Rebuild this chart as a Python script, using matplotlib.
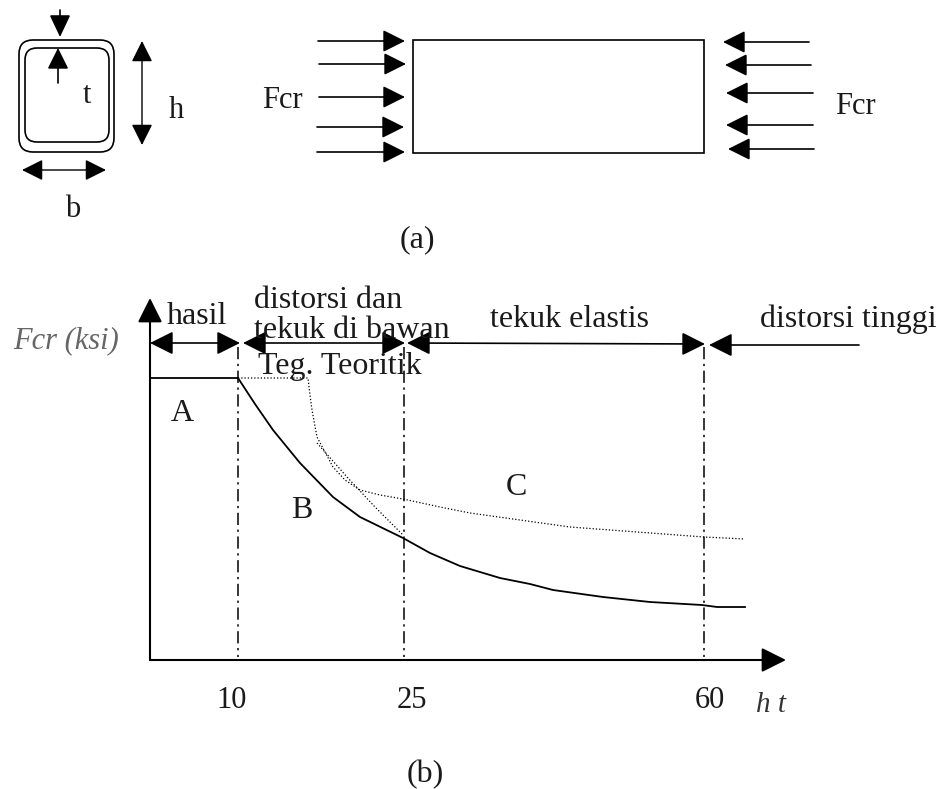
import matplotlib
matplotlib.use("Agg")
import matplotlib.pyplot as plt
from matplotlib.patches import FancyBboxPatch, Rectangle

# everything in pixels
curve_a_x = [150, 238]
curve_a_y = [378, 378]
curve_b_x = [238, 255, 273, 300, 333, 360, 403, 430, 460, 500, 530, 553, 603, 650, 702, 717, 745]
curve_b_y = [378, 404, 430, 463, 497, 517, 538, 553, 566, 578, 584, 590, 597, 602, 605, 607, 607]
curve_c_x = [238, 308, 310, 312, 317, 333, 345, 360, 380, 403, 440, 470, 570, 704, 745]
curve_c_y = [378, 378, 395, 410, 437, 467, 480, 490, 495, 499, 507, 513, 527, 537, 539]
curve_d_x = [317, 347, 375, 403]
curve_d_y = [443, 477, 507, 535]
tick_labels = ["10", "25", "60"]
tick_x = [238, 404, 704]
tick_label_x = [232, 412, 710]
left_arrow_y = [41, 64, 97, 127, 152]
left_arrow_tail = [318, 319, 319, 317, 317]
left_arrow_tip = [405, 406, 405, 404, 405]
right_arrow_y = [42, 65, 93, 125, 149]
right_arrow_tail = [809, 811, 813, 813, 814]
right_arrow_tip = [723, 725, 726, 726, 728]

plt.rcParams['font.family'] = ['Liberation Serif', 'DejaVu Serif']
fig = plt.figure(figsize=(9.38, 7.89), dpi=100)
ax = fig.add_axes([0, 0, 1, 1])
ax.set_xlim(0, 938)
ax.set_ylim(789, 0)
ax.axis('off')


def arrow(x0, y0, x1, y1, style='-|>', hl=20, hw=20, lw=1.2):
    # head sizes given in px, the arrow style wants points
    st = f'{style},head_length={hl * 0.72},head_width={hw * 0.36}'
    ax.annotate('', xy=(x1, y1), xytext=(x0, y0),
                arrowprops=dict(arrowstyle=st, color='black', lw=lw, mutation_scale=1,
                                shrinkA=0, shrinkB=0))


def label(x, y, s, size=23, **kw):
    ax.text(x, y, s, fontsize=size, ha='center', va='center', color='#1a1a1a', **kw)


# hollow section
ax.add_patch(FancyBboxPatch((19, 40), 95, 112, boxstyle='round,pad=0,rounding_size=14',
                            fc='none', ec='black', lw=1.2))
ax.add_patch(FancyBboxPatch((25, 48), 84, 94, boxstyle='round,pad=0,rounding_size=12',
                            fc='none', ec='black', lw=1.2))
arrow(60, 10, 60, 37, hl=19, hw=18)
arrow(58, 83, 58, 48, hl=18, hw=18)
arrow(142, 41, 142, 145, style='<|-|>', hl=18, hw=18, lw=1.0)
arrow(22, 170, 106, 170, style='<|-|>', hl=18, hw=18, lw=1.0)
label(87, 95, 't', 22)
label(176, 110, 'h', 22)
label(73, 209, 'b', 22)

# plate with forces
ax.add_patch(Rectangle((413, 40), 291, 113, fc='none', ec='black', lw=1.2))
for y, x0, x1 in zip(left_arrow_y, left_arrow_tail, left_arrow_tip):
    arrow(x0, y, x1, y, hl=19, hw=19)
for y, x0, x1 in zip(right_arrow_y, right_arrow_tail, right_arrow_tip):
    arrow(x0, y, x1, y, hl=19, hw=19)
label(282, 100, 'Fcr', 22)
label(855, 106, 'Fcr', 22)
label(417, 240, '(a)', 23)

# graph
arrow(150, 660, 150, 298, hl=21, hw=21, lw=1.5)
arrow(150, 660, 786, 660, hl=21, hw=21, lw=1.5)
ax.plot(curve_a_x, curve_a_y, color='black', lw=1.3)
ax.plot(curve_b_x, curve_b_y, color='black', lw=1.3)
ax.plot(curve_c_x, curve_c_y, color='black', lw=0.9, ls=(0, (1, 1.6)))
ax.plot(curve_d_x, curve_d_y, color='black', lw=0.9, ls=(0, (1, 1.6)))
for x, lx, s in zip(tick_x, tick_label_x, tick_labels):
    ax.plot([x, x], [347, 657], color='black', lw=1.1, ls=(0, (8, 3, 1.5, 3)))
    label(lx, 700, s, 22)

# region arrows
arrow(150, 343, 240, 343, style='<|-|>')
arrow(243, 343, 405, 343, style='<|-|>')
arrow(407, 343, 705, 344, style='<|-|>')
arrow(859, 345, 709, 345)

ax.text(66, 341, 'Fcr (ksi)', fontsize=22, style='italic', ha='center', va='center', color='#666666')
label(197, 316, 'hasil')
label(328, 300, 'distorsi dan')
label(352, 330, 'tekuk di bawan')
label(340, 366, 'Teg. Teoritik')
label(570, 319, 'tekuk elastis')
label(848, 319, 'distorsi tinggi')
label(182, 413, 'A')
label(302, 511, 'B')
label(516, 487, 'C')
ax.text(771, 705, 'h t', fontsize=21, style='italic', ha='center', va='center', color='#333333')
label(425, 775, '(b)')

fig.savefig('out.png', dpi=100)
